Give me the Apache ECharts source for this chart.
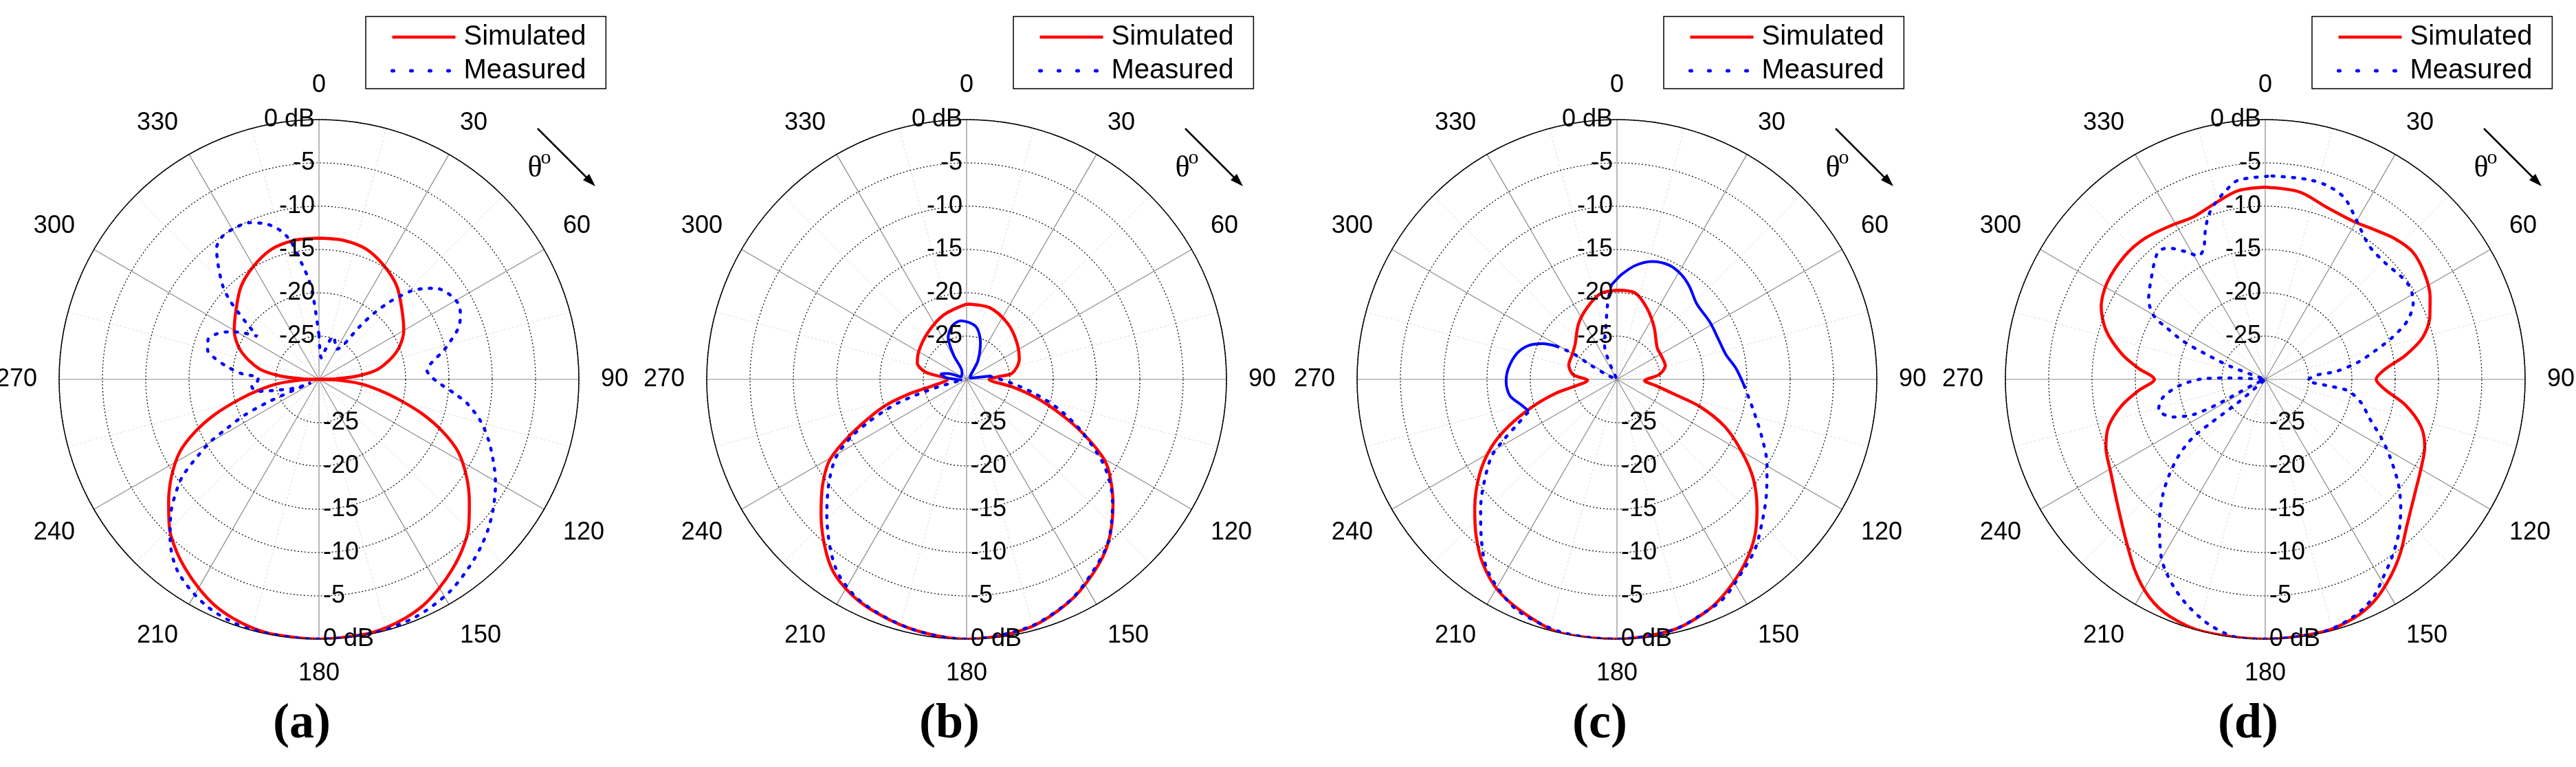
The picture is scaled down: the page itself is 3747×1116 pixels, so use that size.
<!DOCTYPE html>
<html>
<head>
<meta charset="utf-8">
<script src="https://cdn.jsdelivr.net/npm/echarts@6/dist/echarts.min.js"></script>
<style>
  html, body { margin: 0; padding: 0; background: #fff; }
  #chart { width: 3747px; height: 1116px; }
</style>
</head>
<body>
<div id="chart"></div>
<script>
// values: [theta (deg), level (dB)]
const panelNames = ["(a)", "(b)", "(c)", "(d)"];
const seriesNames = ["Simulated", "Measured"];
const dbMin = -30, dbMax = 0, dbStep = 5;
const angleStep = 30;

const simA = [[0,-13.7],[10,-13.7],[20,-14.0],[30,-14.9],[40,-16.0],[50,-17.5],[60,-18.7],[70,-20.4],[80,-23.0],[85,-25.5],[88,-28.0],[90,-30],
  [92,-28.0],[96,-25.2],[100,-23.0],[104,-20.6],[108.5,-17.4],[112.9,-14.5],[117.5,-11.9],[123.4,-9.6],[129.2,-7.6],[135,-5.6],[140,-4.3],[145,-3.2],
  [150,-2.2],[155,-1.3],[160,-0.7],[165,-0.3],[170,-0.1],[180,0],[190,-0.1],[195,-0.3],[200,-0.7],[205,-1.3],[210,-2.2],[215,-3.2],[220,-4.3],
  [225,-5.6],[230.8,-7.6],[236.6,-9.6],[242.5,-11.9],[247.1,-14.5],[251.5,-17.4],[256,-20.6],[260,-23.0],[264,-25.2],[268,-28.0],[270,-30],[272,-28.0],
  [275,-25.5],[280,-23.0],[290,-20.4],[300,-18.7],[310,-17.5],[320,-16.0],[330,-14.9],[340,-14.0],[350,-13.7],[360,-13.7]];
const measA = [[0,-24.9],[6,-27.5],[12,-26.5],[18,-24.8],[25,-25.5],[30,-26.0],[35,-25.3],[37.6,-22.3],[39.9,-19.9],[42.2,-18.0],[44.2,-16.6],
  [46.3,-15.2],[48.8,-14.1],[52,-12.9],[56.3,-12.1],[61.4,-11.7],[65.9,-12.1],[69.9,-12.9],[73.8,-14.2],[77.2,-15.3],[81,-16.7],[85.1,-17.5],
  [88.4,-17.1],[92.1,-16.0],[96.1,-14.2],[99.4,-12.6],[104.6,-10.7],[110.1,-9.1],[116.5,-7.4],[120.7,-6.3],[126.8,-4.9],[131.6,-3.9],[136,-3.1],
  [141,-2.3],[148.5,-1.2],[157.7,-0.4],[167.7,-0.05],[180,0],[195.6,-0.1],[206,-0.75],[216,-2.4],[223,-4.8],[228,-7.0],[232.7,-9.5],[234.9,-10.9],
  [238,-13.7],[240.1,-15.5],[241.9,-17.9],[244.3,-20.4],[246,-23.7],[248,-29.0],[249.2,-27.3],[255.6,-25.0],[259,-22.7],[264,-22.2],[267,-22.8],
  [271.7,-23.0],[274.1,-21.1],[278.1,-19.2],[281.8,-17.6],[284.8,-16.7],[289.6,-16.4],[294.1,-17.1],[298,-18.3],[301.3,-19.6],[304.9,-21.3],
  [307.7,-19.5],[309.7,-17.9],[311.6,-16.2],[314.2,-14.5],[319,-12.2],[322,-10.8],[325.7,-10.1],[330.8,-10.0],[336,-10.2],[341.5,-11.1],
  [345.9,-12.4],[348.8,-14.0],[351.7,-16.6],[354,-18.3],[355.9,-20.2],[360,-24.9]];

const simB = [[0,-21.3],[17.8,-21.3],[36.6,-22.0],[53.6,-22.8],[69.3,-23.5],[82.3,-24.7],[85,-26.3],[90,-27.4],[99.4,-24.6],[104.6,-21.8],
  [109.7,-18.8],[114.5,-15.5],[119.4,-12.1],[123,-10.4],[130.4,-7.8],[139.2,-5.0],[146.7,-3.3],[155.4,-1.7],[166.4,-0.4],[180,0],[192.7,-0.5],
  [205.5,-1.5],[215.6,-3.2],[227.2,-7.1],[233.5,-9.3],[239.2,-11.5],[242.8,-13.9],[246.7,-16.7],[251.9,-20.0],[255.9,-23.2],[259.4,-26.0],
  [270,-27.8],[280,-25.2],[288.5,-24.0],[300.2,-23.6],[319.9,-23.0],[340.5,-22.1],[360,-21.3]];
const measBDot = [[82,-27.3],[95,-24.7],[101.9,-21.9],[107.7,-18.9],[114,-15.6],[121.2,-11.7],[126,-9.5],[130,-8.0],[139,-5.1],[147,-3.4],
  [155,-1.8],[166,-0.5],[180,0],[192.7,-0.5],[205.5,-1.6],[214.8,-3.5],[226.1,-7.6],[233.3,-10.2],[239.3,-12.5],[243.6,-15.2],[246.4,-17.6],
  [249,-19.8],[251,-21.6],[252.8,-23.9],[255.2,-26.6],[262,-29.5]];
const measBSolid = [[262,-29.5],[275,-27.6],[282,-27.0],[288,-27.8],[295,-29.3],[328,-29.0],[331.7,-26.9],[336.3,-24.7],[345,-23.6],[354.4,-23.2],
  [369.8,-23.8],[380.3,-25.4],[391.4,-27.5],[402,-29.2],[430,-29.6],[442,-27.3]];

const simC = [[0,-19.7],[11.9,-19.8],[23,-21.1],[35.4,-22.6],[52,-24.1],[61,-24.2],[74.2,-24.2],[83.5,-25.1],[92.8,-26.8],[99,-25.5],[104.9,-22.9],
  [108.2,-19.9],[113.5,-16.5],[119.8,-13.5],[125.9,-10.6],[132.7,-8.0],[138.7,-5.9],[145.3,-4.1],[152.4,-2.5],[158.8,-1.3],[167.5,-0.35],[180,0],
  [192.7,0],[201.2,-0.9],[209.3,-2.0],[216.1,-3.7],[222,-5.7],[227.7,-7.8],[235.3,-10.7],[241.6,-13.5],[246.5,-16.3],[252,-19.7],[257.3,-22.8],
  [261.3,-25.3],[268,-26.6],[276.3,-24.9],[286.5,-24.2],[298.6,-24.1],[309.9,-23.7],[325.3,-22.2],[337.7,-21.0],[349.4,-19.9],[360,-19.7]];
const measCSolidA = [[356.5,-19.1],[358.6,-18.7],[362.4,-17.9],[369,-16.7],[376.6,-15.8],[384.6,-15.5],[391.5,-15.8],[398,-16.4],[406.4,-17.3],
  [418.5,-17.4],[428.6,-17.4],[437.2,-17.1],[444.7,-16.2],[452.8,-15.3]];
const measCDotB = [[92.8,-15.3],[102.5,-13.9],[111.7,-12.0],[119.5,-10.1],[127.7,-8.2],[134.5,-6.5],[141,-4.7],[147.4,-3.4],[153.9,-1.9],
  [159.8,-1.2],[167.5,-0.35],[180,0],[192,-0.1],[202.9,-0.9],[209.5,-2.2],[214.9,-3.6],[220.3,-5.8],[226.5,-8.3],[231,-10.1],[238.2,-12.9],
  [241.5,-14.9],[245.5,-17.3],[250.1,-19.2]];
const measCSolidC = [[250.1,-19.2],[255.5,-18.5],[261.3,-17.5],[268.6,-17.2],[275.8,-17.4],[284.8,-18.1],[291.1,-19.1],[295.8,-20.5],[298.7,-22.0]];
const measCDotD = [[298.7,-22.0],[300.5,-24.1],[298.6,-26.5],[294,-28.8],[320,-30],[340.4,-25.7],[348.8,-23.5],[353,-21.2],[356.5,-19.1]];

const simD = [[0,-7.8],[10.4,-8.0],[19.7,-8.9],[29.4,-9.1],[36.2,-8.6],[42.8,-7.9],[49.1,-7.5],[56.1,-7.9],[63.3,-8.7],[69.3,-9.7],[75.1,-11.2],
  [80.3,-13.6],[85.1,-16.1],[90,-17.2],[94.9,-16.1],[100.5,-13.5],[106.9,-11.2],[113,-10.0],[119.6,-9.3],[127.8,-8.2],[135.9,-6.5],[142.1,-4.6],
  [147.7,-3.0],[153.7,-1.5],[159.6,-0.6],[167.1,-0.1],[180,0],[193.7,0],[202,-0.5],[208,-1.5],[214,-3.2],[221.8,-5.7],[230.5,-7.8],[238.3,-9.1],
  [246.9,-10.0],[253.2,-11.1],[259.5,-13.1],[264.9,-15.3],[270,-17.2],[275,-15.3],[280,-13.2],[287,-10.8],[293.8,-9.3],[301.4,-8.6],[311.4,-8.4],
  [319.7,-8.6],[329.1,-9.2],[336.1,-9.5],[343.7,-8.9],[351.7,-8.0],[360,-7.8]];
const measD = [[1.9,-6.5],[11.6,-6.4],[17.6,-6.5],[23.4,-7.1],[28.3,-8.4],[32.6,-9.5],[38.2,-10.5],[45.7,-10.7],[53.4,-10.3],[57.9,-10.2],
  [62.8,-10.8],[67.7,-12.3],[71.8,-14.6],[75.6,-17.0],[79.5,-19.1],[83.5,-21.7],[85.4,-24.1],[91.4,-25.1],[95.7,-22.9],[97.8,-20.4],[103.7,-18.6],
  [110.3,-17.2],[117,-14.9],[122,-13.0],[128.3,-10.4],[133.6,-8.4],[139,-6.5],[144.5,-4.8],[149.2,-3.4],[153.7,-1.9],[159.4,-0.8],[167,-0.1],
  [180,0],[186,0],[192.6,-0.9],[198.2,-2.2],[202.8,-3.5],[207.3,-5.0],[210.5,-6.3],[216.6,-9.5],[221.6,-12.2],[225.2,-14.4],[228.9,-16.9],
  [231.3,-19.4],[231.3,-21.9],[229.6,-25.9],[235,-30],[245.8,-28.3],[242.5,-23.8],[243.9,-20.8],[247.8,-18.5],[254.2,-17.2],[260,-18.0],
  [265.9,-20.1],[270.6,-22.9],[272.3,-26.0],[280,-30],[290.3,-25.8],[293.2,-22.3],[295,-19.5],[297.7,-17.1],[299.5,-15.3],[304.3,-13.7],
  [311.1,-12.5],[319.7,-10.8],[323.4,-11.1],[328.3,-12.7],[331.6,-13.8],[334.8,-13.3],[338.2,-11.4],[341.1,-9.9],[344.3,-8.8],[347.6,-7.9],
  [352.2,-6.8],[361.9,-6.5]];

// per panel: simulated curve, dotted measured pieces, solid measured pieces
const panels = [
  { sim: simA, dotted: [measA], solid: [] },
  { sim: simB, dotted: [measBDot], solid: [measBSolid] },
  { sim: simC, dotted: [measCDotB, measCDotD], solid: [measCSolidA, measCSolidC] },
  { sim: simD, dotted: [measD], solid: [] },
];

const centersX = [464, 1406, 2352, 3295];
const cy = 552, R = 378;
const font = "Liberation Sans, Arial, sans-serif";
const serif = "Liberation Serif, Times New Roman, serif";

const toPolar = (pts) => pts.map(([a, v]) => [v, a]);

const polar = [], angleAxis = [], radiusAxis = [], series = [], legend = [], graphic = [];

const dbLabel = (v) => (v === 0 ? "0 dB" : v === dbMin ? "" : String(v));

centersX.forEach((cx, i) => {
  const main = polar.length;
  polar.push({ center: [cx, cy], radius: R });
  polar.push({ center: [cx, cy], radius: R });

  angleAxis.push({
    polarIndex: main, type: "value", min: 0, max: 360, interval: angleStep,
    startAngle: 90, clockwise: true, z: 1,
    axisLine: { show: true, lineStyle: { color: "#000", width: 1.5 } },
    axisTick: { show: false },
    axisLabel: {
      show: true, margin: 32, align: "center", verticalAlign: "middle",
      fontSize: 36, color: "#000", fontFamily: font,
      formatter: (v) => (v >= 360 ? "" : String(v)),
    },
    splitLine: { show: true, lineStyle: { color: "#8a8a8a", width: 1.2 } },
    minorTick: { show: false, splitNumber: 2 },
    minorSplitLine: { show: true, lineStyle: { color: "#dcdcdc", width: 1, type: [3, 3] } },
  });
  angleAxis.push({
    polarIndex: main + 1, type: "value", min: 0, max: 360, startAngle: 270, clockwise: true,
    show: false,
  });

  radiusAxis.push({
    polarIndex: main, type: "value", min: dbMin, max: dbMax, interval: dbStep, z: 5,
    axisLine: { show: false }, axisTick: { show: false },
    axisLabel: { show: true, margin: 6, fontSize: 36, color: "#000", fontFamily: font, formatter: dbLabel },
    splitLine: { show: true, lineStyle: { color: "#000", width: 1.2, type: [2, 3] } },
  });
  radiusAxis.push({
    polarIndex: main + 1, type: "value", min: dbMin, max: dbMax, interval: dbStep, z: 5,
    axisLine: { show: false }, axisTick: { show: false }, splitLine: { show: false },
    axisLabel: { show: true, inside: true, margin: 6, fontSize: 36, color: "#000", fontFamily: font, formatter: dbLabel },
  });

  const p = panels[i];
  series.push({
    name: seriesNames[0], type: "line", coordinateSystem: "polar", polarIndex: main,
    data: toPolar(p.sim), symbol: "none", smooth: 0.3, z: 3,
    lineStyle: { color: "#ff0000", width: 4.5 }, itemStyle: { color: "#ff0000" },
  });
  p.dotted.forEach((d) => series.push({
    name: seriesNames[1], type: "line", coordinateSystem: "polar", polarIndex: main,
    data: toPolar(d), symbol: "none", smooth: 0.3, z: 4,
    lineStyle: { color: "#0000ff", width: 4.5, type: [3, 12], cap: "round" }, itemStyle: { color: "#0000ff" },
  }));
  p.solid.forEach((d) => series.push({
    name: seriesNames[1], type: "line", coordinateSystem: "polar", polarIndex: main,
    data: toPolar(d), symbol: "none", smooth: 0.3, z: 4,
    lineStyle: { color: "#0000ff", width: 4 }, itemStyle: { color: "#0000ff" },
  }));

  legend.push({
    left: cx + 68, top: 24, orient: "vertical",
    backgroundColor: "#fff", borderColor: "#000", borderWidth: 1.5,
    padding: [8, 29, 4, 36], itemGap: 5, itemWidth: 92, itemHeight: 14,
    selectedMode: false,
    itemStyle: { opacity: 0 },
    textStyle: { fontSize: 40, color: "#000", fontFamily: font, lineHeight: 44, padding: [0, 0, 0, 7] },
    data: [
      { name: seriesNames[0], lineStyle: { width: 4.5 } },
      { name: seriesNames[1], lineStyle: { type: [2, 25], cap: "round", width: 5 } },
    ],
  });

  // theta direction arrow
  graphic.push(
    { type: "line", shape: { x1: cx + 318, y1: cy - 365, x2: cx + 396, y2: cy - 287 }, style: { stroke: "#000", lineWidth: 2.5 } },
    { type: "polygon", shape: { points: [[cx + 402, cy - 281], [cx + 384, cy - 290], [cx + 393, cy - 299]] }, style: { fill: "#000" } },
    { type: "text", x: cx + 314, y: cy - 307, style: { text: "θ", font: "44px " + serif, fill: "#000", align: "center", verticalAlign: "middle" } },
    { type: "text", x: cx + 330, y: cy - 322, style: { text: "o", font: "30px " + serif, fill: "#000", align: "center", verticalAlign: "middle" } },
    { type: "text", x: cx - 25, y: 1054, style: { text: panelNames[i], font: "bold 72px " + serif, fill: "#000", align: "center", verticalAlign: "middle" } },
  );
});

const chart = echarts.init(document.getElementById("chart"), null, { renderer: "canvas" });
chart.setOption({
  animation: false,
  backgroundColor: "#fff",
  polar, angleAxis, radiusAxis, series, legend, graphic,
});
</script>
</body>
</html>
